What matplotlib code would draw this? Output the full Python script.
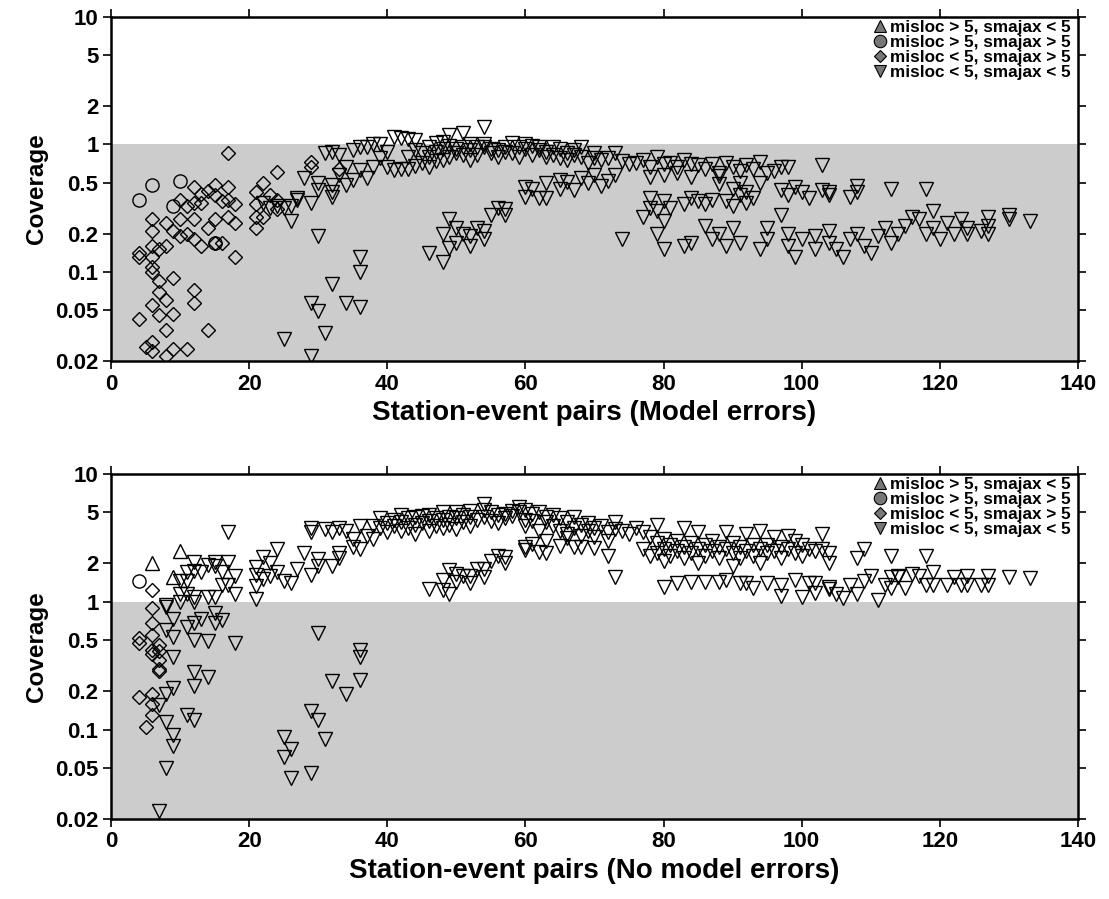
import numpy as np
import matplotlib
matplotlib.use("Agg")
import matplotlib.pyplot as plt
from matplotlib.lines import Line2D

plt.rcParams['font.family'] = ['Liberation Sans', 'DejaVu Sans']
plt.rcParams['font.weight'] = 'bold'

# ---- top panel (model errors) ----
top_circle = [(4, 0.37), (6, 0.48), (9, 0.33), (10, 0.52), (15, 0.17)]

top_diamond = [(17, 0.86), (24, 0.61), (22, 0.50), (12, 0.46), (15, 0.48), (14, 0.43), (13, 0.41),
               (17, 0.46), (10, 0.37), (11, 0.33), (12, 0.35), (13, 0.35), (15, 0.40), (16, 0.36),
               (17, 0.37), (18, 0.34), (6, 0.26), (6, 0.21), (8, 0.24), (10, 0.26), (12, 0.26),
               (15, 0.26), (17, 0.27), (18, 0.24), (9, 0.21), (11, 0.20), (14, 0.22), (12, 0.18),
               (13, 0.16), (10, 0.19), (8, 0.16), (7, 0.15), (6, 0.16), (4, 0.14), (4, 0.13),
               (6, 0.13), (6, 0.11), (6, 0.10), (7, 0.085), (9, 0.09), (7, 0.07), (8, 0.06),
               (6, 0.055), (7, 0.046), (4, 0.043), (9, 0.047), (8, 0.035), (12, 0.072), (12, 0.057),
               (14, 0.035), (18, 0.13), (5, 0.026), (6, 0.028), (6, 0.024), (8, 0.022), (9, 0.025),
               (11, 0.025), (15, 0.17), (16, 0.17), (21, 0.42), (21, 0.34), (21, 0.27), (21, 0.22),
               (22, 0.27), (23, 0.40), (24, 0.37), (24, 0.31), (29, 0.73), (29, 0.66), (33, 0.64)]

top_down = [(22, 0.35), (23, 0.32), (24, 0.33), (25, 0.32), (26, 0.33), (26, 0.25), (27, 0.38),
            (27, 0.37), (28, 0.55), (29, 0.35), (30, 0.50), (30, 0.44), (32, 0.39), (30, 0.19),
            (25, 0.030), (29, 0.057), (29, 0.022), (30, 0.049), (31, 0.033), (32, 0.08), (34, 0.057),
            (36, 0.053), (36, 0.13), (36, 0.10),
            (31, 0.86), (32, 0.88), (33, 0.83), (33, 0.58), (34, 0.66), (32, 0.48), (32, 0.42),
            (34, 0.48), (35, 0.53), (35, 0.90), (36, 0.63), (37, 0.55), (38, 0.66), (36, 0.96),
            (37, 0.96), (38, 1.0), (39, 1.0), (39, 0.78), (40, 0.87), (40, 0.67), (41, 1.15),
            (42, 1.12), (41, 0.63), (42, 0.64), (43, 1.10), (43, 0.80), (43, 0.64),
            (44, 1.08), (44, 0.90), (44, 0.68), (45, 0.85), (45, 0.72), (46, 0.80), (46, 0.96),
            (46, 0.66), (47, 1.02), (47, 0.88), (47, 0.74), (48, 1.05), (48, 0.92), (48, 0.75),
            (49, 1.18), (49, 0.98), (49, 0.80), (50, 0.92), (50, 0.85), (51, 1.23), (51, 0.95),
            (51, 0.82), (52, 1.0), (52, 0.90), (52, 0.75), (53, 0.95), (53, 0.82), (54, 1.38),
            (54, 1.0), (54, 0.95), (55, 0.92), (55, 0.85), (56, 0.90), (56, 0.80), (57, 0.95),
            (57, 0.88), (58, 1.02), (58, 0.85), (59, 0.95), (59, 0.80), (60, 1.0), (60, 0.92),
            (61, 0.98), (61, 0.83), (62, 0.95), (62, 0.90), (63, 0.88), (63, 0.80), (64, 0.96),
            (64, 0.82), (65, 0.92), (65, 0.78), (66, 0.85), (66, 0.75), (67, 0.90), (67, 0.82),
            (46, 0.14), (48, 0.12), (48, 0.20), (49, 0.26), (49, 0.155), (50, 0.22), (50, 0.17),
            (51, 0.20), (52, 0.19), (52, 0.16), (53, 0.22), (54, 0.21), (54, 0.18), (55, 0.28),
            (56, 0.32), (57, 0.31), (57, 0.28),
            (60, 0.46), (60, 0.39), (61, 0.45), (62, 0.38), (63, 0.50), (63, 0.38), (65, 0.53),
            (65, 0.45), (66, 0.51), (67, 0.44),
            (68, 0.96), (70, 0.86), (73, 0.86), (77, 0.76), (79, 0.80), (83, 0.76), (85, 0.69),
            (89, 0.72), (92, 0.69), (94, 0.73), (97, 0.66), (98, 0.67), (103, 0.69), (68, 0.80),
            (69, 0.72), (70, 0.78), (71, 0.75), (72, 0.78), (74, 0.74), (75, 0.70), (76, 0.72),
            (78, 0.66), (80, 0.70), (81, 0.72), (82, 0.66), (84, 0.70), (86, 0.64), (87, 0.70),
            (88, 0.60), (90, 0.66), (91, 0.62), (93, 0.64), (95, 0.60), (96, 0.62),
            (68, 0.55), (69, 0.50), (70, 0.58), (71, 0.47), (72, 0.52), (73, 0.58), (78, 0.56),
            (80, 0.58), (82, 0.60), (84, 0.56), (88, 0.49), (88, 0.57), (90, 0.45), (91, 0.50),
            (92, 0.42), (94, 0.50), (97, 0.44), (98, 0.40), (99, 0.46), (100, 0.42), (101, 0.38),
            (103, 0.44), (104, 0.42), (104, 0.40), (108, 0.47), (108, 0.42), (107, 0.39),
            (113, 0.45), (118, 0.45),
            (77, 0.27), (78, 0.32), (78, 0.38), (79, 0.30), (80, 0.36), (80, 0.25), (81, 0.32),
            (83, 0.34), (84, 0.38), (85, 0.36), (86, 0.34), (87, 0.37), (89, 0.36), (90, 0.33),
            (91, 0.40), (92, 0.35), (93, 0.38), (97, 0.28),
            (74, 0.18), (79, 0.20), (80, 0.15), (83, 0.16), (84, 0.17), (86, 0.23), (87, 0.18),
            (88, 0.20), (89, 0.16), (90, 0.22), (91, 0.17), (94, 0.15), (95, 0.18), (95, 0.22),
            (98, 0.20), (98, 0.16), (99, 0.13), (100, 0.18), (102, 0.15), (102, 0.19), (104, 0.17),
            (104, 0.21), (105, 0.15), (106, 0.13), (107, 0.18), (108, 0.20), (109, 0.16),
            (110, 0.14), (111, 0.19), (112, 0.22), (113, 0.17), (114, 0.20), (115, 0.23),
            (116, 0.27), (117, 0.26), (118, 0.20), (119, 0.30), (119, 0.22), (120, 0.18),
            (121, 0.24), (122, 0.20), (123, 0.26), (124, 0.22), (124, 0.20), (126, 0.21),
            (127, 0.27), (127, 0.23), (127, 0.20), (130, 0.28), (130, 0.26), (133, 0.25)]

# ---- bottom panel (no model errors) ----
bot_up = [(6, 2.0), (10, 2.5), (9, 1.55)]
bot_circle = [(4, 1.45)]
bot_diamond = [(6, 1.24), (6, 0.89), (6, 0.68), (6, 0.55), (4, 0.52), (4, 0.48), (7, 0.46),
               (6, 0.42), (6, 0.39), (7, 0.35), (7, 0.30), (7, 0.29), (4, 0.18), (6, 0.19),
               (6, 0.16), (6, 0.13), (5, 0.105), (7, 0.41)]

bot_down = [(17, 3.5), (12, 2.05), (14, 1.95), (15, 2.05), (17, 2.05), (11, 1.70), (12, 1.75),
            (13, 1.70), (10, 1.45), (11, 1.45), (15, 1.90), (16, 1.70), (18, 1.60), (16, 1.35),
            (17, 1.35), (18, 1.15), (10, 1.15), (11, 1.15), (12, 1.10), (14, 1.10), (15, 1.10),
            (8, 0.95),
            (21, 1.87), (22, 2.25), (23, 2.0), (24, 2.6), (21, 1.63), (22, 1.50), (21, 1.33),
            (23, 1.60), (24, 1.70), (25, 1.45), (26, 1.40), (27, 1.80), (28, 2.4), (29, 1.62),
            (30, 2.15), (30, 1.90), (32, 1.90), (33, 2.2), (33, 2.4), (21, 1.05), (29, 3.8),
            (29, 3.5), (31, 3.7), (32, 3.5), (33, 3.8), (34, 3.6), (35, 3.1), (35, 2.7), (36, 2.6),
            (36, 3.9), (37, 3.3), (38, 3.1), (39, 4.5), (40, 4.1), (41, 3.9), (42, 4.8),
            (8, 0.91), (10, 1.0), (12, 1.0), (9, 0.74), (8, 0.60), (9, 0.53), (11, 0.63),
            (12, 0.68), (13, 0.74), (15, 0.82), (16, 0.72), (15, 0.68), (12, 0.50), (14, 0.49),
            (18, 0.48), (9, 0.37), (12, 0.28), (14, 0.26), (12, 0.22), (9, 0.21), (8, 0.19),
            (7, 0.155), (11, 0.13), (12, 0.12), (8, 0.115), (9, 0.09), (9, 0.075), (8, 0.05),
            (7, 0.023), (30, 0.57), (36, 0.42), (36, 0.37), (36, 0.245), (32, 0.24), (34, 0.19),
            (29, 0.14), (30, 0.12), (31, 0.085), (25, 0.088), (26, 0.07), (25, 0.061),
            (26, 0.042), (29, 0.046),
            (46, 1.25), (48, 1.48), (48, 1.24), (49, 1.77), (49, 1.15), (50, 1.65), (50, 1.42),
            (51, 1.60), (52, 1.60), (52, 1.40), (53, 1.80), (54, 1.80), (54, 1.55), (55, 2.1),
            (56, 2.3), (57, 2.25), (57, 2.0), (60, 2.7), (60, 2.55), (61, 2.85), (62, 2.45),
            (63, 3.0), (63, 2.4), (65, 2.75), (66, 3.15), (67, 2.7), (68, 2.7), (70, 2.65),
            (72, 2.3), (73, 1.55),
            (38, 3.9), (39, 3.8), (40, 3.5), (41, 4.4), (42, 4.2), (42, 3.6), (43, 4.5), (43, 3.8),
            (44, 4.6), (44, 4.0), (44, 3.4), (45, 4.7), (45, 4.1), (46, 4.8), (46, 4.3), (46, 3.6),
            (47, 4.5), (47, 3.9), (48, 5.0), (48, 4.4), (48, 3.8), (49, 4.6), (49, 4.0), (50, 5.0),
            (50, 4.5), (50, 3.7), (51, 4.8), (51, 4.2), (52, 5.1), (52, 4.6), (52, 3.9), (53, 4.4),
            (54, 5.8), (54, 5.2), (54, 4.6), (55, 5.0), (55, 4.3), (56, 4.8), (56, 4.1), (57, 4.9),
            (57, 4.5), (58, 5.1), (58, 4.7), (59, 5.5), (59, 5.0), (60, 5.2), (60, 4.4), (60, 3.9),
            (61, 4.9), (61, 4.3), (62, 5.0), (62, 3.6), (63, 4.6), (63, 4.2), (64, 4.8), (64, 3.9),
            (65, 4.5), (65, 3.6), (66, 4.2), (66, 3.4), (67, 4.6), (67, 3.8), (68, 4.0), (68, 3.3),
            (69, 4.1), (69, 3.6), (70, 3.8), (70, 3.2), (71, 3.9), (72, 3.5), (72, 3.0), (73, 4.2),
            (73, 3.7), (74, 3.6), (75, 3.4), (76, 3.8), (77, 3.5), (77, 2.6), (78, 3.2), (78, 2.3),
            (79, 4.0), (79, 2.9), (79, 2.4), (80, 3.1), (80, 2.6), (80, 2.1), (81, 2.8), (81, 2.3),
            (82, 3.0), (82, 2.5), (83, 3.8), (83, 2.7), (83, 2.2), (84, 2.9), (84, 2.4), (85, 3.5),
            (85, 2.6), (85, 2.0), (86, 2.8), (86, 2.3), (87, 3.0), (87, 2.5), (88, 2.7), (88, 2.2),
            (89, 3.5), (89, 2.6), (90, 2.9), (90, 2.4), (90, 1.9), (91, 2.7), (91, 2.2), (92, 3.4),
            (92, 2.5), (93, 2.8), (93, 2.3), (94, 3.6), (94, 2.6), (94, 2.0), (95, 2.8), (95, 2.4),
            (96, 3.2), (96, 2.5), (97, 2.7), (97, 2.2), (98, 3.3), (98, 2.6), (99, 3.0), (99, 2.4),
            (100, 2.8), (100, 2.3), (101, 2.6), (102, 2.5), (103, 3.4), (103, 2.6), (104, 2.4),
            (104, 2.0),
            (80, 1.30), (82, 1.40), (84, 1.42), (86, 1.42), (88, 1.42), (89, 1.48), (91, 1.40),
            (92, 1.40), (93, 1.28), (95, 1.40), (97, 1.35), (97, 1.12), (99, 1.48), (100, 1.10),
            (101, 1.40), (102, 1.40), (102, 1.17), (104, 1.30), (104, 1.25), (105, 1.15),
            (106, 1.08), (107, 1.35), (108, 1.15), (109, 1.45), (110, 1.60), (111, 1.03),
            (112, 1.35), (113, 1.28), (114, 1.60), (108, 2.2), (109, 2.6), (113, 2.3), (118, 2.3),
            (113, 1.55), (114, 1.55), (115, 1.28), (116, 1.65), (117, 1.60), (118, 1.35),
            (119, 1.70), (119, 1.35), (121, 1.35), (122, 1.55), (123, 1.35), (124, 1.60),
            (124, 1.35), (126, 1.35), (127, 1.60), (127, 1.35), (130, 1.55), (133, 1.53)]

yticks = [0.02, 0.05, 0.1, 0.2, 0.5, 1, 2, 5, 10]
ytick_labels = ['0.02', '0.05', '0.1', '0.2', '0.5', '1', '2', '5', '10']
xticks = [0, 20, 40, 60, 80, 100, 120, 140]
legend_labels = ['misloc > 5, smajax < 5', 'misloc > 5, smajax > 5',
                 'misloc < 5, smajax > 5', 'misloc < 5, smajax < 5']


def draw(ax, pts, marker, ms):
    if not pts:
        return
    x, y = zip(*pts)
    ax.plot(x, y, linestyle='none', marker=marker, markersize=ms,
            markerfacecolor='none', markeredgecolor='black', markeredgewidth=1.0)


def panel(ax, groups, xlabel):
    ax.axhspan(0.02, 1, color='#cccccc', zorder=0, lw=0)
    draw(ax, groups.get('up'), '^', 10)
    draw(ax, groups.get('circle'), 'o', 9.5)
    draw(ax, groups.get('diamond'), 'D', 7.2)
    draw(ax, groups.get('down'), 'v', 10)
    ax.set_yscale('log')
    ax.set_xlim(0, 140)
    ax.set_ylim(0.02, 10)
    ax.set_yticks(yticks)
    ax.set_yticklabels(ytick_labels)
    ax.minorticks_off()
    ax.set_xticks(xticks)
    ax.tick_params(direction='out', length=6, width=1.2, labelsize=16,
                   top=True, right=True, pad=3)
    for lab in ax.get_xticklabels() + ax.get_yticklabels():
        lab.set_fontweight('bold')
    for s in ax.spines.values():
        s.set_linewidth(1.8)
    ax.set_xlabel(xlabel, fontsize=20, fontweight='bold', labelpad=4)
    ax.set_ylabel('Coverage', fontsize=17.5, fontweight='bold', labelpad=5)
    handles = [Line2D([], [], linestyle='none', marker=m, markersize=ms,
                      markerfacecolor='#777777', markeredgecolor='black', markeredgewidth=0.8)
               for m, ms in [('^', 9), ('o', 9), ('D', 6.5), ('v', 9)]]
    leg = ax.legend(handles, legend_labels, loc='upper right', bbox_to_anchor=(0.995, 1.0),
                    frameon=False, fontsize=12.3, labelspacing=0.0, handletextpad=0.1,
                    handlelength=1.0, borderpad=0.1, borderaxespad=0.05)
    for t in leg.get_texts():
        t.set_fontweight('bold')


fig = plt.figure(figsize=(11.09, 8.99), dpi=100)
ax1 = fig.add_axes([0.1001, 0.5984, 0.8719, 0.3827])
ax2 = fig.add_axes([0.1001, 0.0890, 0.8719, 0.3838])

panel(ax1, {'circle': top_circle, 'diamond': top_diamond, 'down': top_down},
      'Station-event pairs (Model errors)')
panel(ax2, {'up': bot_up, 'circle': bot_circle, 'diamond': bot_diamond, 'down': bot_down},
      'Station-event pairs (No model errors)')

fig.savefig('out.png', dpi=100)
